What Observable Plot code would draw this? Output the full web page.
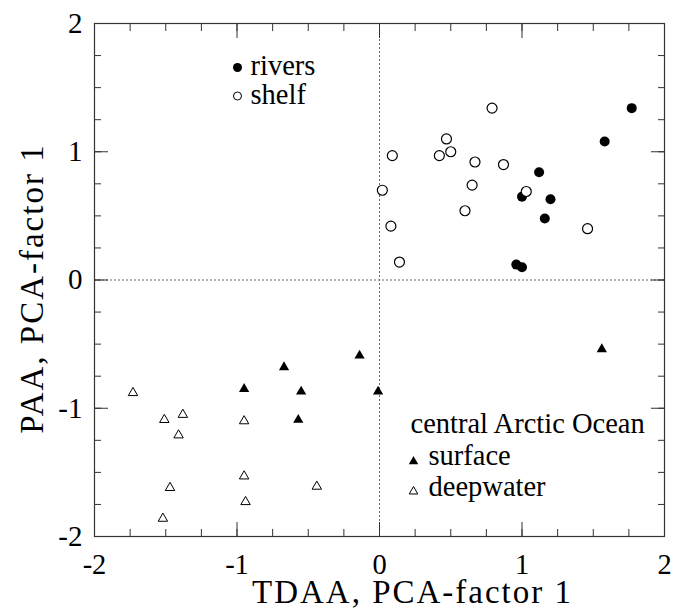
<!DOCTYPE html>
<html><head><meta charset="utf-8">
<script src="https://cdn.jsdelivr.net/npm/d3@7"></script>
<script src="https://cdn.jsdelivr.net/npm/@observablehq/plot@0.6"></script>
<style>
body{margin:0;background:#fff}
svg text, svg tspan { font-family: "Liberation Serif", "Times New Roman", Times, serif !important; }
</style>
</head><body><div id="chart"></div>
<script>
// rivers (filled circles)
const riversX = [1.77, 1.58, 1.12, 1.00, 1.20, 1.16, 0.96, 1.00];
const riversY = [1.34, 1.08, 0.84, 0.65, 0.63, 0.48, 0.12, 0.10];
// shelf (open circles)
const shelfX = [0.79, 0.47, 0.42, 0.50, 0.09, 0.67, 0.87, 0.65, 0.02, 1.03, 0.60, 0.08, 1.46, 0.14];
const shelfY = [1.34, 1.10, 0.97, 1.00, 0.97, 0.92, 0.90, 0.74, 0.70, 0.69, 0.54, 0.42, 0.40, 0.14];
// central Arctic Ocean surface (filled triangles)
const surfaceX = [-0.67, -0.95, -0.55, -0.57, -0.14, -0.01, 1.56];
const surfaceY = [-0.68, -0.85, -0.87, -1.09, -0.59, -0.87, -0.54];
// central Arctic Ocean deepwater (open triangles)
const deepX = [-1.73, -1.51, -1.38, -1.41, -0.95, -1.47, -0.95, -0.94, -1.52, -0.44];
const deepY = [-0.88, -1.09, -1.05, -1.21, -1.10, -1.62, -1.53, -1.73, -1.86, -1.61];

const majorTicks = [-2, -1, 0, 1, 2];
const minorTicks = d3.range(-2, 2.001, 0.25);
const tickLabels = ["-2", "-1", "0", "1", "2"];
const xTitle = "TDAA, PCA-factor 1";
const yTitle = "PAA, PCA-factor 1";
const legendTop = ["rivers", "shelf"];
const legendBottomTitle = "central Arctic Ocean";
const legendBottom = ["surface", "deepwater"];

const rows = (xs, ys) => xs.map((x, i) => ({x, y: ys[i]}));
const fmt = d => tickLabels[majorTicks.indexOf(d)];
const axisColor = "#333";
const serif = '"Liberation Serif", "Times New Roman", Times, serif';

const tickMarks = [];
for (const anchor of ["top", "bottom"]) {
  tickMarks.push(Plot.axisX({anchor, ticks: minorTicks, tickSize: -7, fill: "none", stroke: axisColor, label: null}));
  tickMarks.push(Plot.axisX({anchor, ticks: majorTicks, tickSize: -14, fill: "none", stroke: axisColor, label: null}));
}
for (const anchor of ["left", "right"]) {
  tickMarks.push(Plot.axisY({anchor, ticks: minorTicks, tickSize: -7, fill: "none", stroke: axisColor, label: null}));
  tickMarks.push(Plot.axisY({anchor, ticks: majorTicks, tickSize: -14, fill: "none", stroke: axisColor, label: null}));
}

const legendText = (label, dx, dy) =>
  Plot.text([label], {frameAnchor: "top-left", text: d => d, textAnchor: "start", lineAnchor: "middle", dx, dy, fontSize: 28.5, fontFamily: serif});

const chart = Plot.plot({
  width: 674,
  height: 611,
  marginLeft: 94,
  marginRight: 10,
  marginTop: 23,
  marginBottom: 75,
  style: {fontFamily: serif, color: "black", background: "white"},
  x: {domain: [-2, 2]},
  y: {domain: [-2, 2]},
  marks: [
    Plot.ruleX([0], {stroke: "#666", strokeDasharray: "2,2"}),
    Plot.ruleY([0], {stroke: "#666", strokeDasharray: "2,2"}),
    ...tickMarks,
    Plot.frame({stroke: axisColor, strokeWidth: 1.2}),
    Plot.axisX({anchor: "bottom", ticks: majorTicks, tickSize: 0, tickPadding: 17, tickFormat: fmt, fontSize: 28.5, label: null}),
    Plot.axisY({anchor: "left", ticks: majorTicks, tickSize: 0, tickPadding: 12, tickFormat: fmt, fontSize: 29, label: null}),
    Plot.text([xTitle], {frameAnchor: "bottom", text: d => d, textAnchor: "middle", lineAnchor: "middle", dx: 33, dy: 56.4, fontSize: 33, fontFamily: serif}),
    Plot.text([yTitle], {frameAnchor: "left", text: d => d, textAnchor: "middle", lineAnchor: "middle", rotate: -90, dx: -62, dy: 8.5, fontSize: 33, fontFamily: serif}),
    // data
    Plot.dot(rows(riversX, riversY), {x: "x", y: "y", r: 5, fill: "black"}),
    Plot.dot(rows(shelfX, shelfY), {x: "x", y: "y", r: 5, fill: "white", stroke: "black", strokeWidth: 1.2}),
    Plot.dot(rows(surfaceX, surfaceY), {x: "x", y: "y", symbol: "triangle", r: 3.8, fill: "black"}),
    Plot.dot(rows(deepX, deepY), {x: "x", y: "y", symbol: "triangle", r: 3.5, fill: "white", stroke: "black", strokeWidth: 1}),
    // legend top-left
    Plot.dot([legendTop[0]], {frameAnchor: "top-left", dx: 143, dy: 44, r: 4.5, fill: "black"}),
    legendText(legendTop[0], 156, 42.7),
    Plot.dot([legendTop[1]], {frameAnchor: "top-left", dx: 143, dy: 72.5, r: 4, fill: "white", stroke: "black", strokeWidth: 1}),
    legendText(legendTop[1], 156, 71.5),
    // legend bottom-right
    legendText(legendBottomTitle, 316, 400.7),
    Plot.dot([legendBottom[0]], {frameAnchor: "top-left", dx: 319, dy: 438, symbol: "triangle", r: 3.5, fill: "black"}),
    legendText(legendBottom[0], 334, 432.7),
    Plot.dot([legendBottom[1]], {frameAnchor: "top-left", dx: 319, dy: 468, symbol: "triangle", r: 3.2, fill: "white", stroke: "black", strokeWidth: 1}),
    legendText(legendBottom[1], 334, 463.4)
  ]
});
// the original lettering is wider than Times at this cap height: open the axis titles up a little
for (const t of chart.querySelectorAll("text")) {
  if (t.textContent === xTitle || t.textContent === yTitle) t.style.letterSpacing = "2px";
}
document.getElementById("chart").append(chart);
</script>
</body></html>
